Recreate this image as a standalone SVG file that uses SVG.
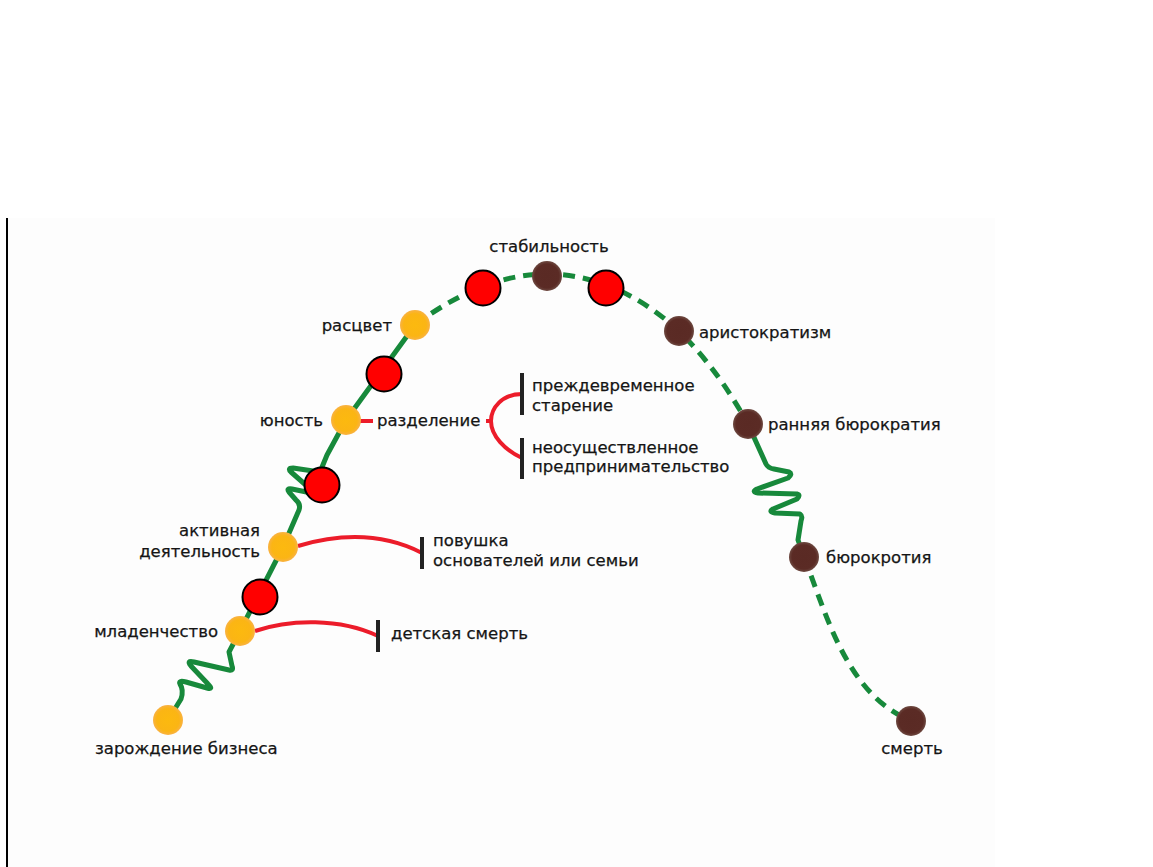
<svg xmlns="http://www.w3.org/2000/svg" width="1153" height="867" viewBox="0 0 1153 867">
<defs>
<radialGradient id="gOr" cx="50%" cy="50%" r="50%">
<stop offset="0%" stop-color="#fcb90f"/>
<stop offset="75%" stop-color="#fbb514"/>
<stop offset="100%" stop-color="#f9b244"/>
</radialGradient>
<radialGradient id="gBr" cx="50%" cy="50%" r="50%">
<stop offset="0%" stop-color="#5a2a24"/>
<stop offset="80%" stop-color="#5b2b25"/>
<stop offset="100%" stop-color="#6e4a42"/>
</radialGradient>
<style>
.t{font-family:"DejaVu Sans","Liberation Sans",sans-serif;font-size:16.5px;fill:#151515;stroke:#151515;stroke-width:0.25}
.g{fill:none;stroke:#17893b;stroke-width:5;stroke-linejoin:round;stroke-linecap:round}
.d{stroke-dasharray:12 8;stroke-linecap:butt}
.r{fill:none;stroke:#ec1c2a;stroke-width:4}
.bar{fill:#222}
.or{fill:url(#gOr)}
.br{fill:url(#gBr)}
.red{fill:#ff0000;stroke:#000;stroke-width:2}
</style>
</defs>
<rect x="0" y="0" width="1153" height="867" fill="#ffffff"/>
<rect x="8" y="218" width="987" height="649" fill="#fdfdfd"/>
<line x1="7" y1="218" x2="7" y2="867" stroke="#000" stroke-width="2"/>

<g id="connectors">
<path class="g" d="M168,720 L181,699 Q184,690 180,684 Q178,680 186,682 L207,688 Q214,690 208,684 L191,666 Q186,660 194,662 L229,670 Q234,671 232,666 L229,652 L240,631"/>
<line class="g" x1="240" y1="631" x2="283" y2="547"/>
<path class="g" d="M283,547 L299,510 Q301,504 296,500 L289,492 Q286,488 292,489 L316,494 L291,472 Q287,468 293,468 L320,472 L327,455 L346,420"/>
<line class="g" x1="346" y1="420" x2="415" y2="325"/>
<path class="g d" d="M415,325 C455,295 500,274 547,274 C600,274 645,300 679,331 C710,362 730,392 748,424"/>
<path class="g" d="M748,424 L766,464 Q768,468 774,469 L789,472 Q793,474 788,478 L757,489 Q751,492 758,493 L797,494 Q801,495 797,499 L773,509 Q768,512 775,513 L800,514 Q803,516 801,521 L798,540 L804,557"/>
<path class="g d" d="M804,557 C825,610 845,690 905,718"/>
<path class="r" d="M255,631 C290,619 340,618 378,636"/>
<path class="r" d="M298,546 C345,532 385,534 422,553"/>
<line class="r" x1="360" y1="421" x2="373" y2="421"/>
<path class="r" d="M486,421 L491,421 M522,394 C502,394 491,408 491,421 C491,436 505,450 522,458"/>
<rect class="bar" x="376" y="620" width="4" height="32"/>
<rect class="bar" x="420" y="537" width="4" height="32"/>
<rect class="bar" x="520" y="373" width="4" height="42"/>
<rect class="bar" x="520" y="438" width="4" height="41"/>
</g>

<g id="n-zarozhdenie"><circle class="or" cx="168" cy="720" r="15"/><text class="t" x="95" y="754">зарождение бизнеса</text></g>
<g id="n-mladenchestvo"><circle class="or" cx="240" cy="631" r="15"/><text class="t" x="218" y="637" text-anchor="end">младенчество</text></g>
<g id="n-aktivnaya"><circle class="or" cx="283" cy="547" r="15"/><text class="t" x="260" y="536" text-anchor="end">активная</text><text class="t" x="260" y="557" text-anchor="end">деятельность</text></g>
<g id="n-yunost"><circle class="or" cx="346" cy="420" r="15"/><text class="t" x="323" y="426" text-anchor="end">юность</text></g>
<g id="n-rascvet"><circle class="or" cx="415" cy="325" r="15"/><text class="t" x="392" y="331" text-anchor="end">расцвет</text></g>
<g id="n-stabilnost"><circle class="br" cx="547" cy="276" r="15"/><text class="t" x="549" y="252" text-anchor="middle">стабильность</text></g>
<g id="n-aristokratizm"><circle class="br" cx="679" cy="331" r="15"/><text class="t" x="699" y="338">аристократизм</text></g>
<g id="n-rannyaya"><circle class="br" cx="748" cy="424" r="15"/><text class="t" x="768" y="430">ранняя бюрократия</text></g>
<g id="n-byurokrotiya"><circle class="br" cx="804" cy="557" r="15"/><text class="t" x="826" y="563">бюрокротия</text></g>
<g id="n-smert"><circle class="br" cx="911" cy="721" r="15"/><text class="t" x="912" y="754" text-anchor="middle">смерть</text></g>
<g id="n-razdelenie"><text class="t" x="377" y="426">разделение</text></g>
<g id="n-starenie"><text class="t" x="532" y="391">преждевременное</text><text class="t" x="532" y="411">старение</text></g>
<g id="n-neosush"><text class="t" x="532" y="453">неосуществленное</text><text class="t" x="532" y="472">предпринимательство</text></g>
<g id="n-detskaya"><text class="t" x="391" y="639">детская смерть</text></g>
<g id="n-lovushka"><text class="t" x="433" y="546">повушка</text><text class="t" x="433" y="566">основателей или семьи</text></g>

<g id="markers">
<circle class="red" cx="483" cy="288" r="17.5"/>
<circle class="red" cx="606" cy="288" r="17.5"/>
<circle class="red" cx="384" cy="374" r="17.5"/>
<circle class="red" cx="322" cy="485" r="17.5"/>
<circle class="red" cx="260" cy="597" r="17.5"/>
</g>
</svg>
